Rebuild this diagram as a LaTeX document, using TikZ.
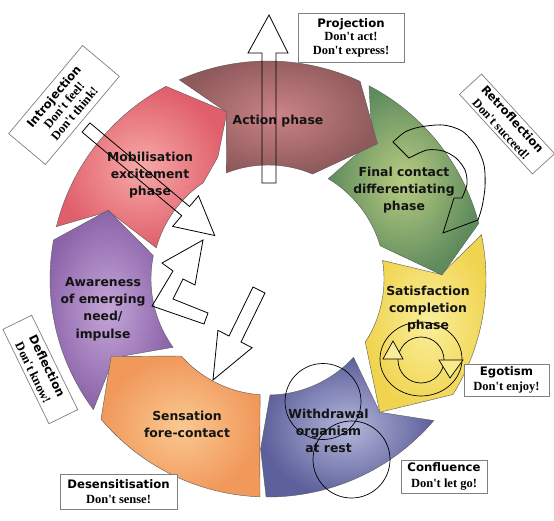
\documentclass[tikz,border=0pt]{standalone}
\usepackage{fontspec}
\setsansfont{DejaVu Sans}
\newfontfamily\dontfont{Liberation Serif}[Ligatures=TeXOff]
\usetikzlibrary{calc}
\definecolor{actOut}{HTML}{8E5A5B}\definecolor{actIn}{HTML}{CB8388}
\definecolor{mobOut}{HTML}{E05F6C}\definecolor{mobIn}{HTML}{F7AAA8}
\definecolor{awaOut}{HTML}{8B63A9}\definecolor{awaIn}{HTML}{C4A6D8}
\definecolor{senOut}{HTML}{F1985B}\definecolor{senIn}{HTML}{FAC890}
\definecolor{witOut}{HTML}{5D609A}\definecolor{witIn}{HTML}{B4B7DB}
\definecolor{satOut}{HTML}{F0D44F}\definecolor{satIn}{HTML}{FAEE9A}
\definecolor{finOut}{HTML}{5F8B5D}\definecolor{finIn}{HTML}{B8CC82}
\definecolor{segline}{HTML}{5A5A5A}
\newcommand\ringfont{\fontsize{12.4}{17.2}\selectfont\sffamily\bfseries}
\newcommand\ttlfont{\sffamily\bfseries\fontsize{11.7}{13.5}\selectfont}
\newcommand\subfontA{\dontfont\bfseries\fontsize{12.5}{13.5}\selectfont}
\newcommand\subfontB{\dontfont\bfseries\fontsize{12.5}{15.5}\selectfont}
\tikzset{
  seg/.style={draw=segline, line width=0.4pt, line join=miter},
  ringlabel/.style={font=\ringfont, align=center, text=black!92, inner sep=0pt},
  tagbox/.style={draw=black!50, line width=0.7pt, fill=white, align=center, inner sep=0pt, font=\subfontA},
  tagboxB/.style={tagbox, font=\subfontB},
  hollow/.style={draw=black, line width=0.8pt, line join=miter},
  thinring/.style={draw=black, line width=0.7pt},
}
\begin{document}
\begin{tikzpicture}[x=1pt,y=-1pt]
\path[use as bounding box, fill=white] (0,0) rectangle (554,521);
% ---- ring segments ----
\begin{scope}[shift={(268,279)}]
\shadedraw[seg, inner color=witIn, outer color=witOut]
  (40.5:218) arc[start angle=40.5,end angle=90.5,radius=218] -- (92.5:170) -- (89:116)
  arc[start angle=89,end angle=42.5,radius=116] -- (50:174) -- cycle;
\shadedraw[seg, inner color=satIn, outer color=satOut]
  (348.3:218) arc[start angle=348.3,end angle=392,radius=218] -- (410:174) -- (393:116)
  arc[start angle=393,end angle=350.8,radius=116] -- (358.5:173) -- cycle;
\shadedraw[seg, inner color=finIn, outer color=finOut]
  (297.6:218) arc[start angle=297.6,end angle=345.2,radius=218] -- (358.7:174) -- (343.5:117)
  arc[start angle=343.5,end angle=301,radius=117] -- (307:173) -- cycle;
\shadedraw[seg, inner color=actIn, outer color=actOut]
  (246:218) arc[start angle=246,end angle=295,radius=218] -- (309:174) -- (293:114)
  arc[start angle=293,end angle=248.5,radius=114] -- (256:172) -- cycle;
\shadedraw[seg, inner color=mobIn, outer color=mobOut]
  (193.9:218) arc[start angle=193.9,end angle=242.1,radius=218] -- (256.2:172) -- (247.7:132) -- (236:116)
  arc[start angle=236,end angle=195.6,radius=116] -- (203:173) -- cycle;
\shadedraw[seg, inner color=awaIn, outer color=awaOut]
  (143.2:218) arc[start angle=143.2,end angle=190.3,radius=218] -- (203.3:174) -- (191.5:117)
  arc[start angle=191.5,end angle=144.3,radius=117] -- (153:173) -- cycle;
\shadedraw[seg, inner color=senIn, outer color=senOut]
  (92.1:218) arc[start angle=92.1,end angle=140,radius=218] -- (153.7:175) -- (138.4:116)
  arc[start angle=138.4,end angle=93.9,radius=116] -- (92.8:167) -- cycle;
\end{scope}
% ---- ring labels ----
\node[ringlabel] (action) at (278,121) {Action phase};
\node[ringlabel] (mobil) at (150,175) {Mobilisation\\excitement\\phase};
\node[ringlabel] (final) at (404,190) {Final contact\\differentiating\\phase};
\node[ringlabel] (satis) at (428,309) {Satisfaction\\completion\\phase};
\node[ringlabel] (withd) at (328.5,431) {Withdrawal\\organism\\at rest};
\node[ringlabel] (sensa) at (187,424.5) {Sensation\\fore-contact};
\node[ringlabel] (aware) at (103,309) {Awareness\\of emerging\\need/\\impulse};
% ---- hollow arrows ----
\draw[hollow] (262,183) -- (262,53) -- (248,53) -- (269,15) -- (288,53) -- (276,53) -- (276,183) -- cycle;
\draw[hollow] (82.1,132.1) -- (181.7,215.7) -- (172.7,226.4) -- (214.7,235.5) -- (198.5,195.8) -- (189.5,206.5) -- (89.9,122.9) -- cycle;
\draw[hollow] (203,240) -- (195,285) -- (183,279) -- (173,299) -- (208,313) -- (204,324) -- (152,306) -- (173,271) -- (162,263) -- cycle;
\draw[hollow] (253,287) -- (229,336) -- (217.9,330.3) -- (213,380) -- (252.1,347.7) -- (241,342) -- (265,293) -- cycle;
% retroflection curved arrow
\draw[hollow] plot[smooth] coordinates {(393,142) (405,132) (420,127) (443,125) (462,131) (476,146) (484,165) (485,187) (482,207) (478,220)}
  -- (443,233) -- (454,198) -- plot[smooth] coordinates {(462,198) (467,184) (465,170) (456,158) (443,151) (427,150) (409,158)} -- cycle;
% egotism circular arrows
\draw[thinring] (421,359) ellipse[x radius=41, y radius=37];
\draw[thinring] (421,360) circle[radius=23];
\draw[thinring, fill=satIn] (393,341) -- (383,359) -- (403,359) -- cycle;
\draw[thinring, fill=satIn!80!satOut] (450,378) -- (439,360) -- (463,360) -- cycle;
% confluence circles
\draw[thinring] (323,401.5) circle[radius=38];
\draw[thinring] (351.5,459.5) circle[radius=38.5];
% ---- tag boxes ----
\node[tagbox, minimum width=106pt, minimum height=49pt] (proj) at (351,37.5) {{\ttlfont Projection}\\Don't act!\\Don't express!};
\node[tagbox, rotate=50, minimum width=115pt, minimum height=48pt] (intro) at (64,105) {{\ttlfont Introjection}\\Don't feel!\\Don't think!};
\node[tagboxB, rotate=-47.5, minimum width=108pt, minimum height=30pt] (retro) at (507,124) {{\ttlfont Retroflection}\\Don't succeed!};
\node[tagboxB, rotate=-64, minimum width=105pt, minimum height=32pt] (defl) at (40.3,369.5) {{\ttlfont Deflection}\\Don't know!};
\node[tagboxB, minimum width=117pt, minimum height=35pt] (desens) at (118.5,491.5) {{\ttlfont Desensitisation}\\Don't sense!};
\node[tagboxB, minimum width=85pt, minimum height=32pt] (ego) at (506.5,380) {{\ttlfont Egotism}\\Don't enjoy!};
\node[tagboxB, minimum width=86pt, minimum height=33pt] (confl) at (444,476.5) {{\ttlfont Confluence}\\Don't let go!};
\end{tikzpicture}
\end{document}
